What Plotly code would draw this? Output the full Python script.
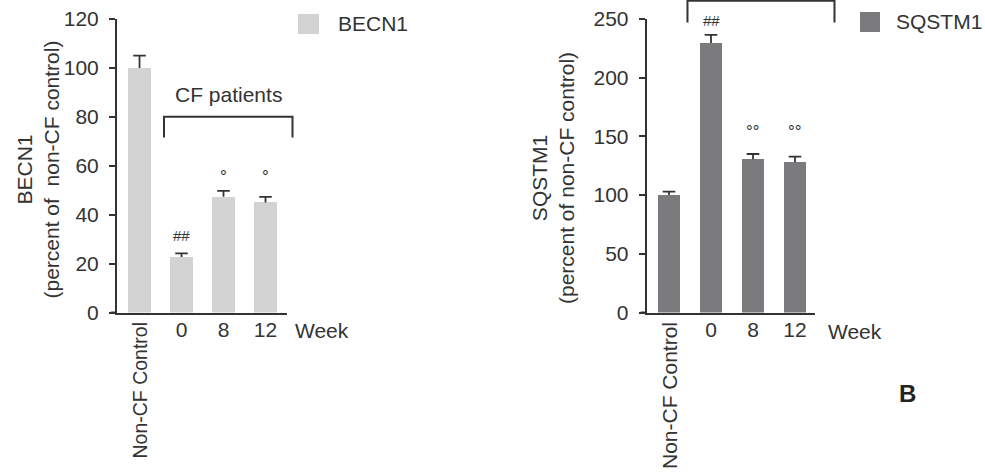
import plotly.graph_objects as go

# ---------------- data ----------------
groups = ["Non-CF Control", "0", "8", "12"]
week_labels = ["0", "8", "12"]
becn1_values = [100, 22.7, 47.3, 45.0]
becn1_err = [5.0, 1.5, 2.4, 2.3]
sqstm1_values = [100, 229.5, 130.5, 128.0]
sqstm1_err = [3.0, 7.0, 4.5, 4.8]
becn1_marks = ["", "##", "°", "°"]
sqstm1_marks = ["", "##", "°°", "°°"]
becn1_mark_y = [None, 31.5, 55.5, 55.5]
sqstm1_mark_y = [None, 248.5, 154, 154]

W, H = 985, 475
TXT = "#333333"
FONT = "Liberation Sans, Arial, sans-serif"
C1 = "#d3d3d3"
C2 = "#7b7b7d"
FS = 21
BAR_W = 0.53
CAP = 0.15

def px(x):
    return x / W

def py(y):
    return 1 - y / H

pos = list(range(len(groups)))

# axis geometry (pixels)
L_dom = [px(117), px(287)]
R_dom = [px(646.7), px(815)]
Y_dom = [py(312.5), py(19)]
L_rng = [-0.536, 3.512]
R_rng = [-0.531, 3.476]
L_yr = [0, 120]
R_yr = [0, 250]

def xd(v, dom, rng):
    return dom[0] + (v - rng[0]) / (rng[1] - rng[0]) * (dom[1] - dom[0])

def yd(v, rng):
    return Y_dom[0] + (v - rng[0]) / (rng[1] - rng[0]) * (Y_dom[1] - Y_dom[0])

def tee(xs, vals, errs):
    ex, ey = [], []
    for x, v, e in zip(xs, vals, errs):
        ex += [x, x, None, x - CAP, x + CAP, None]
        ey += [v, v + e, None, v + e, v + e, None]
    return ex, ey

fig = go.Figure()
for vals, errs, col, xa, ya in [(becn1_values, becn1_err, C1, "x", "y"),
                                (sqstm1_values, sqstm1_err, C2, "x2", "y2")]:
    fig.add_trace(go.Bar(x=pos, y=vals, width=BAR_W, marker=dict(color=col, line=dict(width=0)),
                         xaxis=xa, yaxis=ya, showlegend=False, hoverinfo="skip"))
    ex, ey = tee(pos, vals, errs)
    fig.add_trace(go.Scatter(x=ex, y=ey, mode="lines", line=dict(color=TXT, width=1.8),
                             xaxis=xa, yaxis=ya, showlegend=False, hoverinfo="skip",
                             cliponaxis=False))

axis_common = dict(showgrid=False, zeroline=False, showline=True, linecolor=TXT, linewidth=2,
                   automargin=False, tickfont=dict(family=FONT, size=FS, color=TXT))
fig.update_layout(
    template="none",
    width=W, height=H, margin=dict(l=0, r=0, t=0, b=0, pad=0), autosize=False,
    plot_bgcolor="white", paper_bgcolor="white", bargap=0,
    xaxis=dict(domain=L_dom, range=L_rng, anchor="y", tickvals=pos[1:], ticktext=week_labels,
               ticks="", ticklabelstandoff=-3, **axis_common),
    yaxis=dict(domain=Y_dom, range=L_yr, anchor="x", tickvals=[0, 20, 40, 60, 80, 100, 120],
               ticks="outside", ticklen=6, tickwidth=2, tickcolor=TXT, ticklabelstandoff=6,
               **axis_common),
    xaxis2=dict(domain=R_dom, range=R_rng, anchor="y2", tickvals=pos[1:], ticktext=week_labels,
                ticks="", ticklabelstandoff=-3, **axis_common),
    yaxis2=dict(domain=Y_dom, range=R_yr, anchor="x2", tickvals=[0, 50, 100, 150, 200, 250],
                ticks="outside", ticklen=6, tickwidth=2, tickcolor=TXT, ticklabelstandoff=6,
                **axis_common),
)

ann = []
shapes = []
fnt = dict(family=FONT, size=FS, color=TXT)

def A(**kw):
    d = dict(showarrow=False, xanchor="center", yanchor="middle", xref="paper", yref="paper")
    d.update(kw)
    ann.append(d)

# significance marks
for i in range(4):
    if becn1_marks[i]:
        A(x=pos[i], y=becn1_mark_y[i], xref="x", yref="y", text=becn1_marks[i],
          font=dict(family=FONT, size=15 if "#" in becn1_marks[i] else 17, color=TXT))
    if sqstm1_marks[i]:
        A(x=pos[i], y=sqstm1_mark_y[i], xref="x2", yref="y2", text=sqstm1_marks[i],
          font=dict(family=FONT, size=15 if "#" in sqstm1_marks[i] else 17, color=TXT))

# Non-CF Control rotated labels
A(x=xd(pos[0], L_dom, L_rng), y=py(390), text=groups[0], textangle=-90,
  font=dict(family=FONT, size=19.5, color=TXT))
A(x=xd(pos[0], R_dom, R_rng), y=py(396), text=groups[0], textangle=-90, font=fnt)
# Week labels
A(x=px(293), y=py(330), text="Week", xanchor="left", font=fnt)
A(x=px(826), y=py(331), text="Week", xanchor="left", font=fnt)
# axis titles
A(x=px(37.5), y=py(170), text="BECN1<br>(percent of  non-CF control)", textangle=-90, font=fnt)
A(x=px(553), y=py(178), text="SQSTM1<br>(percent of non-CF control)", textangle=-90, font=fnt)

# small extension of x axis lines to the left (as in the original)
for dom in (L_dom, R_dom):
    shapes.append(dict(type="line", xref="paper", yref="paper", x0=dom[0] - px(6), x1=dom[0],
                       y0=Y_dom[0], y1=Y_dom[0], line=dict(color=TXT, width=2)))

# CF patients bracket (left)
bx0 = xd(0.583, L_dom, L_rng); bx1 = xd(3.643, L_dom, L_rng)
by_top = yd(80, L_yr); by_bot = yd(71.5, L_yr)
shapes.append(dict(type="path", xref="paper", yref="paper",
                   path=f"M {bx0} {by_bot} L {bx0} {by_top} L {bx1} {by_top} L {bx1} {by_bot}",
                   line=dict(color=TXT, width=2)))
A(x=(bx0 + bx1) / 2, y=yd(89, L_yr), text="CF patients", font=fnt)
# bracket (right)
rx0 = xd(0.44, R_dom, R_rng); rx1 = xd(3.94, R_dom, R_rng)
ry_top = yd(265.5, R_yr); ry_bot = yd(247, R_yr)
shapes.append(dict(type="path", xref="paper", yref="paper",
                   path=f"M {rx0} {ry_bot} L {rx0} {ry_top} L {rx1} {ry_top} L {rx1} {ry_bot}",
                   line=dict(color=TXT, width=2)))

# legends
shapes.append(dict(type="rect", xref="paper", yref="paper", x0=px(298), x1=px(319),
                   y0=py(34), y1=py(14), fillcolor=C1, line=dict(width=0)))
A(x=px(336), y=py(24), text="BECN1", xanchor="left", font=fnt)
shapes.append(dict(type="rect", xref="paper", yref="paper", x0=px(860), x1=px(880),
                   y0=py(32), y1=py(12), fillcolor=C2, line=dict(width=0)))
A(x=px(894), y=py(22), text="SQSTM1", xanchor="left", font=fnt)

# panel letter
A(x=px(897), y=py(393), text="<b>B</b>", xanchor="left",
  font=dict(family=FONT, size=24, color="#222222"))

fig.update_layout(annotations=ann, shapes=shapes)
fig.write_html("out.html", config={"displayModeBar": False},
               post_script="document.body.style.margin='0';document.body.style.padding='0';")
